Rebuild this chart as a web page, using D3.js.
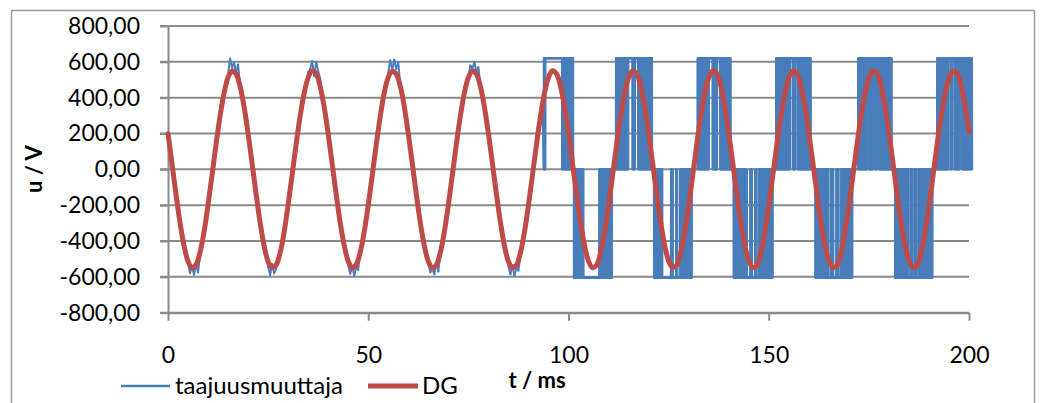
<!DOCTYPE html>
<html>
<head>
<meta charset="utf-8">
<script src="https://cdn.jsdelivr.net/npm/d3@7"></script>
<style>
  html, body { margin: 0; padding: 0; background: #fff; }
  text { font-family: Lato, "Open Sans", "Liberation Sans", sans-serif; fill: #000; }
</style>
</head>
<body>
<svg id="chart" width="1040" height="403"></svg>
<script>
// Axis ticks
const yTicks = [-800, -600, -400, -200, 0, 200, 400, 600, 800];
const xTicks = [0, 50, 100, 150, 200];

// Series names
const seriesNames = ["taajuusmuuttaja", "DG"];

// DG voltage, one sample per ms, t = 0 ... 200 ms
const dgU = [
  199, 31, -140, -297, -426, -513, -549, -532, -463, -349, -199, -31, 140, 297, 426, 513, 549, 532, 463, 348,
  200, 33, -138, -296, -427, -514, -548, -533, -465, -350, -198, -30, 141, 298, 425, 512, 550, 533, 462, 347,
  198, 30, -141, -298, -425, -512, -550, -531, -462, -348, -200, -32, 139, 296, 427, 514, 548, 531, 464, 349,
  199, 32, -139, -297, -426, -513, -549, -533, -464, -349, -199, -31, 140, 297, 426, 513, 549, 532, 463, 348,
  201, 34, -137, -295, -425, -514, -548, -534, -466, -351, -201, -33, 138, 295, 424, 513, 550, 534, 465, 350,
  202, 35, -136, -294, -424, -512, -549, -535, -467, -352, -202, -34, 137, 294, 423, 512, 549, 535, 466, 352,
  203, 36, -135, -293, -423, -511, -548, -535, -468, -353, -204, -36, 135, 292, 422, 511, 549, 536, 468, 354,
  204, 38, -133, -291, -421, -510, -548, -536, -469, -355, -205, -37, 134, 291, 421, 510, 548, 536, 469, 355,
  205, 39, -132, -290, -420, -509, -547, -537, -470, -356, -206, -38, 133, 290, 420, 509, 548, 537, 470, 356,
  206, 40, -131, -289, -419, -508, -547, -537, -471, -357, -207, -39, 132, 289, 419, 508, 547, 537, 471, 357,
  207
];

// Converter voltage while it follows the grid sine, one sample per 0.5 ms, t = 0 ... 93.5 ms
const convU = [
  199, 121, 27, -62, -134, -228, -290, -372, -420, -487, -522, -580, -541, -588, -530, -575, -480, -405, -355, -270,
  -206, -110, -38, 62, 132, 228, 290, 372, 432, 470, 530, 618, 566, 598, 540, 585, 468, 440, 340, 285,
  192, 112, 36, -50, -146, -216, -304, -360, -432, -470, -545, -590, -528, -580, -555, -520, -470, -418, -342, -282,
  -192, -122, -26, 50, 146, 214, 303, 360, 432, 478, 542, 560, 604, 520, 598, 548, 505, 402, 355, 270,
  204, 112, 25, -60, -134, -226, -292, -370, -421, -495, -535, -582, -540, -592, -548, -560, -455, -415, -344, -282,
  -204, -111, -37, 61, 134, 227, 291, 372, 420, 488, 538, 608, 555, 612, 560, 596, 470, 405, 354, 271,
  195, 122, 25, -61, -135, -226, -300, -371, -432, -470, -530, -575, -552, -586, -520, -570, -470, -404, -355, -272,
  -194, -121, -25, 49, 145, 215, 303, 361, 431, 470, 520, 580, 560, 600, 545, 570, 470, 415, 343, 282,
  204, 111, 37, -50, -135, -227, -292, -372, -420, -490, -540, -586, -535, -592, -550, -565, -478, -404, -355, -270,
  -205, -110, -36, 62, 134, 228, 291, 372
];

// Converter in switching mode: pulse blocks (ms), pulse level (V) and
// intervals inside each block where the output stays at the pulse level
const pwmStart = [93.8, 101.3, 111.8, 121.3, 132.2, 141.2, 151.8, 161.6, 172.3, 181.5, 192.0];
const pwmEnd   = [101.2, 110.9, 120.9, 130.8, 140.5, 151.0, 160.5, 170.9, 180.7, 190.9, 200.8];
const pwmLevel = [620, -605, 620, -605, 620, -605, 620, -605, 620, -605, 620];
const pwmHolds = [
  [[94.3, 98.3]],
  [[103.8, 107.6]],
  [[115.0, 115.9], [116.7, 117.3]],
  [[123.4, 125.5], [126.1, 126.8], [127.2, 127.7]],
  [[135.1, 135.9], [137.2, 137.8]],
  [[144.6, 145.3], [145.8, 146.5], [147.0, 147.4]],
  [[155.4, 155.9], [156.7, 157.2]],
  [[165.0, 165.5], [166.2, 166.8], [167.5, 168.0]],
  [[174.7, 175.1], [176.2, 176.6], [177.2, 177.6]],
  [[184.9, 185.3], [186.0, 186.4], [187.0, 187.4]],
  [[194.9, 195.3], [195.9, 196.3], [197.8, 198.2]]
];
const carrierStep = 0.05; // ms between switching edges

const svg = d3.select("#chart");

// chart frame
svg.append("rect")
  .attr("x", 11.5).attr("y", 10.5)
  .attr("width", 1023).attr("height", 420)
  .attr("fill", "#fff").attr("stroke", "#9a9a9a").attr("stroke-width", 1.5);

const x = d3.scaleLinear().domain([0, 200]).range([168, 969]);
const y = d3.scaleLinear().domain([-800, 800]).range([312.7, 26]);

const fiLocale = d3.formatLocale({ decimal: ",", thousands: "\u00a0", grouping: [3], currency: ["", " €"], minus: "-" });
const fmtY = fiLocale.format(".2f");

const gridColor = "#8a8a8a";

// horizontal gridlines
svg.append("g")
  .selectAll("line")
  .data(yTicks)
  .join("line")
  .attr("x1", 160).attr("x2", 969)
  .attr("y1", d => y(d)).attr("y2", d => y(d))
  .attr("stroke", gridColor).attr("stroke-width", 2);

// y axis
const yAxis = svg.append("g")
  .attr("transform", "translate(168,0)")
  .call(d3.axisLeft(y).tickValues(yTicks).tickFormat(fmtY).tickSizeInner(8).tickSizeOuter(0).tickPadding(20));
yAxis.select(".domain").attr("stroke", gridColor).attr("stroke-width", 2);
yAxis.selectAll(".tick line").attr("stroke", gridColor).attr("stroke-width", 2);
yAxis.selectAll("text").style("font-size", "23px").attr("fill", "#000");

// x axis
const xAxis = svg.append("g")
  .attr("transform", "translate(0,312.7)")
  .call(d3.axisBottom(x).tickValues(xTicks).tickFormat(d3.format("d")).tickSizeInner(8).tickSizeOuter(0).tickPadding(26));
xAxis.select(".domain").attr("stroke", gridColor).attr("stroke-width", 2);
xAxis.selectAll(".tick line").attr("stroke", gridColor).attr("stroke-width", 2);
xAxis.selectAll("text").style("font-size", "23px").attr("fill", "#000");

// axis titles
svg.append("text")
  .attr("transform", "translate(42,169) rotate(-90)")
  .attr("text-anchor", "middle")
  .style("font-size", "22px").style("font-weight", "bold")
  .text("u / V");

svg.append("text")
  .attr("x", 537).attr("y", 388)
  .attr("text-anchor", "middle")
  .style("font-size", "22px").style("font-weight", "bold")
  .text("t / ms");

// converter series: sine part followed by the switching blocks
const conv = convU.map((u, i) => [i * 0.5, u]);
pwmStart.forEach((s, b) => {
  const e = pwmEnd[b], lvl = pwmLevel[b], holds = pwmHolds[b];
  for (let k = 0, t = s; t <= e + 1e-9; k++, t = s + k * carrierStep) {
    const held = holds.some(([h0, h1]) => t >= h0 && t <= h1);
    conv.push([t, held ? lvl : (k % 2 ? lvl : 0)]);
  }
  conv.push([e, 0]);
});

const dg = dgU.map((u, i) => [i, u]);

const lineSmooth = d3.line().x(d => x(d[0])).y(d => y(d[1])).curve(d3.curveCatmullRom);

const blue = "#4A7EBB", red = "#BE4B48";

// converter trace: each step between consecutive samples as its own segment,
// so the dense switching edges overlap into a solid band
svg.append("g")
  .attr("stroke", blue).attr("stroke-width", 2).attr("stroke-linecap", "round")
  .selectAll("line")
  .data(d3.pairs(conv))
  .join("line")
  .attr("x1", d => x(d[0][0])).attr("y1", d => y(d[0][1]))
  .attr("x2", d => x(d[1][0])).attr("y2", d => y(d[1][1]));

svg.append("path")
  .datum(dg)
  .attr("d", lineSmooth)
  .attr("fill", "none").attr("stroke", red).attr("stroke-width", 5)
  .attr("stroke-linejoin", "round").attr("stroke-linecap", "round");

// legend
const legend = svg.append("g");
const legendItems = [
  { name: seriesNames[0], color: blue, width: 2.5, x0: 121, x1: 170, tx: 175 },
  { name: seriesNames[1], color: red, width: 5, x0: 368, x1: 418, tx: 422 }
];
legendItems.forEach(it => {
  legend.append("line")
    .attr("x1", it.x0).attr("x2", it.x1).attr("y1", 386).attr("y2", 386)
    .attr("stroke", it.color).attr("stroke-width", it.width);
  legend.append("text")
    .attr("x", it.tx).attr("y", 394)
    .style("font-size", "24px")
    .text(it.name);
});
</script>
</body>
</html>
